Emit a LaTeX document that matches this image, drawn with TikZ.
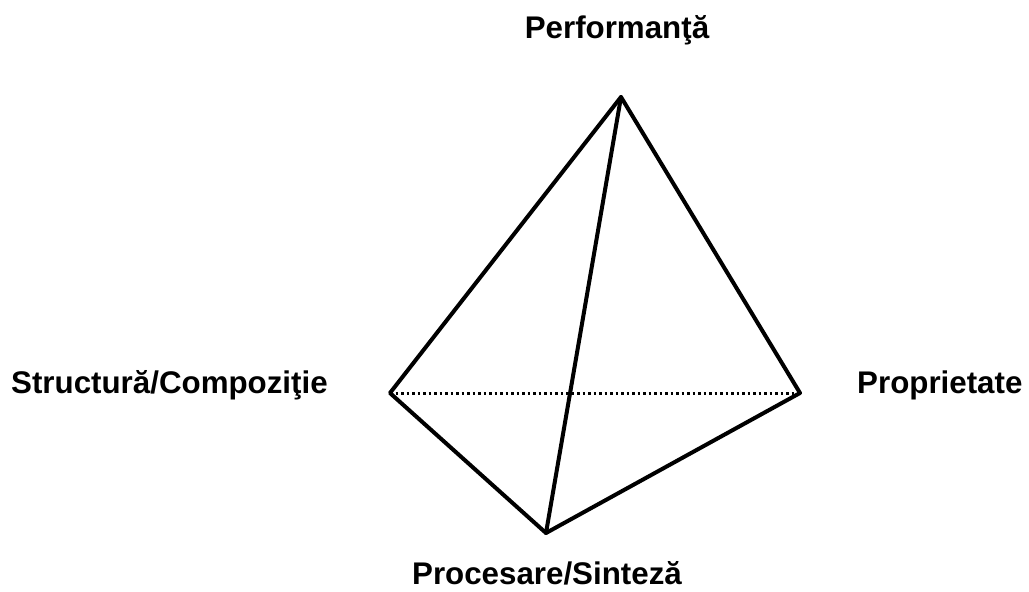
\documentclass[tikz,border=0pt]{standalone}
\usepackage{fontspec}
\setmainfont{Liberation Sans}
\begin{document}
\begin{tikzpicture}[x=1pt,y=-1pt,
  edge/.style={line width=4pt,line join=round,line cap=round},
  hidden/.style={line width=3pt,dash pattern=on 2.5pt off 3pt},
  lbl/.style={font=\bfseries\fontsize{31.3}{33}\selectfont,anchor=base,inner sep=0pt}]
  \useasboundingbox (0,0) rectangle (1029,592);
  % vertices of the tetrahedron
  \coordinate (T) at (621,97);
  \coordinate (L) at (390,393);
  \coordinate (R) at (800,393);
  \coordinate (B) at (546,533);
  % hidden rear edge
  \draw[hidden] (L) -- (R);
  % visible edges
  \draw[edge] (L) -- (T) -- (R) -- (B) -- cycle;
  \draw[edge] (T) -- (B);
  % vertex labels
  \node[lbl] (perf) at (617,38) {Performanţă};
  \node[lbl,anchor=base west] (struct) at (11,393) {Structură/Compoziţie};
  \node[lbl,anchor=base west] (prop) at (857,393) {Proprietate};
  \node[lbl] (proc) at (547,584) {Procesare/Sinteză};
\end{tikzpicture}
\end{document}
